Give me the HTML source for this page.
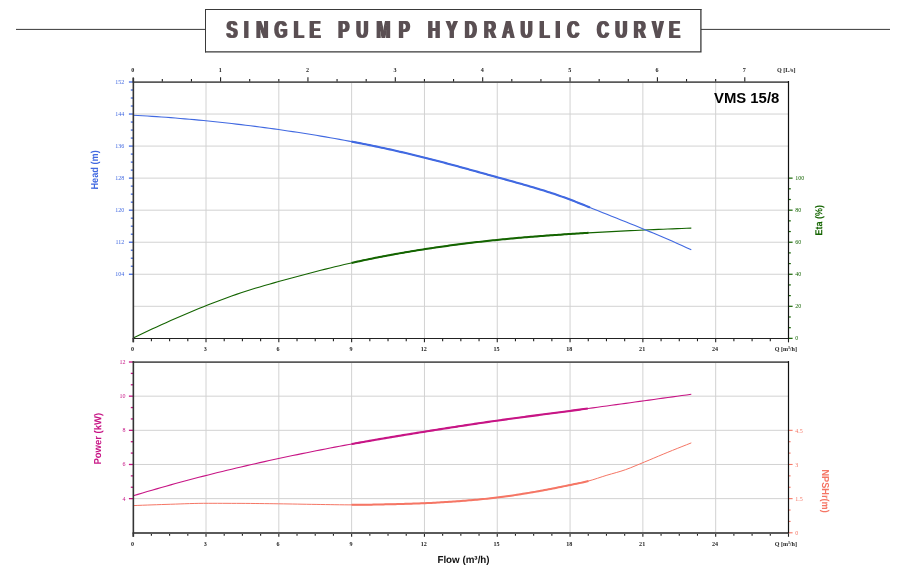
<!DOCTYPE html>
<html lang="en"><head><meta charset="utf-8"><title>Single Pump Hydraulic Curve</title>
<style>html,body{margin:0;padding:0;background:#fff}svg{display:block}text{white-space:pre}</style></head><body>
<svg width="908" height="571" viewBox="0 0 908 571">
<rect width="908" height="571" fill="#fff"/>
<g id="title">
<line x1="16" y1="29.4" x2="205.5" y2="29.4" stroke="#383838" stroke-width="1"/>
<line x1="701" y1="29.4" x2="890" y2="29.4" stroke="#383838" stroke-width="1"/>
<rect x="205.5" y="9.5" width="495.4" height="42.3" fill="#fff"/>
<path d="M205 9.5H701.5M205.5 9V52.4" fill="none" stroke="#3a3a3a" stroke-width="1"/>
<path d="M205 51.8H701.5M700.9 9V52.4" fill="none" stroke="#3a3a3a" stroke-width="1.3"/>
<defs><filter id="hb" x="-2%" y="-20%" width="104%" height="140%"><feMorphology operator="dilate" radius="1 0"/></filter></defs>
<g filter="url(#hb)"><text transform="translate(200.0 37.7) scale(0.676 1)" font-family='"Liberation Sans", sans-serif' font-weight="700" font-size="24.5" fill="#5a5052" x="39.14 65.24 83.32 110.26 138.52 161.9 183.9 204.45 231.11 261.1 293.94 315.94 337.39 364.45 391.81 420.32 447.09 474.3 502.13 525.74 543.2 565.2 587.14 614.39 641.77 668.9 693.71">SINGLE PUMP HYDRAULIC CURVE</text></g>
</g>
<g stroke="#d2d2d2" stroke-width="1" fill="none">
<line x1="206.01" y1="82" x2="206.01" y2="338.35"/>
<line x1="278.82" y1="82" x2="278.82" y2="338.35"/>
<line x1="351.63" y1="82" x2="351.63" y2="338.35"/>
<line x1="424.44" y1="82" x2="424.44" y2="338.35"/>
<line x1="497.25" y1="82" x2="497.25" y2="338.35"/>
<line x1="570.06" y1="82" x2="570.06" y2="338.35"/>
<line x1="642.87" y1="82" x2="642.87" y2="338.35"/>
<line x1="715.68" y1="82" x2="715.68" y2="338.35"/>
<line x1="133.2" y1="114.04" x2="788.4" y2="114.04"/>
<line x1="133.2" y1="146.09" x2="788.4" y2="146.09"/>
<line x1="133.2" y1="178.13" x2="788.4" y2="178.13"/>
<line x1="133.2" y1="210.18" x2="788.4" y2="210.18"/>
<line x1="133.2" y1="242.22" x2="788.4" y2="242.22"/>
<line x1="133.2" y1="274.26" x2="788.4" y2="274.26"/>
<line x1="133.2" y1="306.31" x2="788.4" y2="306.31"/>
</g>
<path d="M133.2 338 L137.89 335.73 L142.58 333.49 L147.27 331.27 L151.96 329.08 L156.65 326.91 L161.34 324.77 L166.03 322.65 L170.72 320.56 L175.41 318.49 L180.1 316.45 L184.79 314.44 L189.48 312.46 L194.17 310.51 L198.86 308.58 L203.55 306.68 L208.24 304.81 L212.93 302.97 L217.62 301.17 L222.31 299.4 L227 297.68 L231.69 296 L236.38 294.36 L241.07 292.77 L245.76 291.24 L250.45 289.75 L255.14 288.31 L259.83 286.91 L264.52 285.54 L269.21 284.19 L273.9 282.87 L278.59 281.56 L283.28 280.26 L287.97 278.97 L292.66 277.69 L297.35 276.42 L302.04 275.16 L306.73 273.92 L311.42 272.69 L316.11 271.48 L320.8 270.28 L325.49 269.1 L330.18 267.94 L334.87 266.8 L339.56 265.68 L344.25 264.58 L348.94 263.5 L353.63 262.45 L358.32 261.42 L363.01 260.41 L367.7 259.43 L372.39 258.47 L377.08 257.53 L381.77 256.61 L386.46 255.72 L391.15 254.85 L395.84 253.99 L400.53 253.16 L405.22 252.35 L409.91 251.55 L414.59 250.78 L419.28 250.02 L423.97 249.28 L428.66 248.56 L433.35 247.86 L438.04 247.17 L442.73 246.5 L447.42 245.85 L452.11 245.21 L456.8 244.6 L461.49 243.99 L466.18 243.41 L470.87 242.84 L475.56 242.28 L480.25 241.74 L484.94 241.22 L489.63 240.71 L494.32 240.22 L499.01 239.74 L503.7 239.27 L508.39 238.82 L513.08 238.39 L517.77 237.96 L522.46 237.55 L527.15 237.15 L531.84 236.77 L536.53 236.39 L541.22 236.03 L545.91 235.67 L550.6 235.33 L555.29 235 L559.98 234.67 L564.67 234.36 L569.36 234.05 L574.05 233.75 L578.74 233.45 L583.43 233.17 L588.12 232.89 L592.81 232.62 L597.5 232.35 L602.19 232.1 L606.88 231.84 L611.57 231.6 L616.26 231.36 L620.95 231.12 L625.64 230.89 L630.33 230.67 L635.02 230.45 L639.71 230.23 L644.4 230.02 L649.09 229.81 L653.78 229.61 L658.47 229.41 L663.16 229.21 L667.85 229.02 L672.54 228.83 L677.23 228.65 L681.92 228.46 L686.61 228.28 L691.3 228.1" fill="none" stroke="#146400" stroke-width="1.1" stroke-linecap="butt" stroke-linejoin="round"/>
<path d="M351.6 262.9 L353.59 262.46 L355.58 262.02 L357.57 261.58 L359.56 261.15 L361.55 260.72 L363.54 260.3 L365.54 259.88 L367.53 259.46 L369.52 259.05 L371.51 258.65 L373.5 258.24 L375.49 257.85 L377.48 257.45 L379.47 257.06 L381.46 256.67 L383.45 256.29 L385.44 255.91 L387.43 255.54 L389.42 255.16 L391.42 254.8 L393.41 254.43 L395.4 254.07 L397.39 253.71 L399.38 253.36 L401.37 253.01 L403.36 252.67 L405.35 252.32 L407.34 251.98 L409.33 251.65 L411.32 251.32 L413.31 250.99 L415.3 250.66 L417.29 250.34 L419.29 250.02 L421.28 249.7 L423.27 249.39 L425.26 249.08 L427.25 248.78 L429.24 248.47 L431.23 248.17 L433.22 247.88 L435.21 247.58 L437.2 247.29 L439.19 247.01 L441.18 246.72 L443.17 246.44 L445.17 246.16 L447.16 245.89 L449.15 245.61 L451.14 245.35 L453.13 245.08 L455.12 244.82 L457.11 244.56 L459.1 244.3 L461.09 244.04 L463.08 243.79 L465.07 243.54 L467.06 243.3 L469.05 243.06 L471.05 242.82 L473.04 242.58 L475.03 242.34 L477.02 242.11 L479.01 241.88 L481 241.66 L482.99 241.43 L484.98 241.21 L486.97 241 L488.96 240.78 L490.95 240.57 L492.94 240.36 L494.93 240.15 L496.93 239.95 L498.92 239.75 L500.91 239.55 L502.9 239.35 L504.89 239.16 L506.88 238.97 L508.87 238.78 L510.86 238.59 L512.85 238.41 L514.84 238.23 L516.83 238.05 L518.82 237.87 L520.81 237.7 L522.81 237.52 L524.8 237.35 L526.79 237.18 L528.78 237.02 L530.77 236.86 L532.76 236.69 L534.75 236.53 L536.74 236.38 L538.73 236.22 L540.72 236.07 L542.71 235.91 L544.7 235.76 L546.69 235.62 L548.68 235.47 L550.68 235.33 L552.67 235.18 L554.66 235.04 L556.65 234.9 L558.64 234.76 L560.63 234.63 L562.62 234.49 L564.61 234.36 L566.6 234.23 L568.59 234.1 L570.58 233.97 L572.57 233.84 L574.56 233.72 L576.56 233.59 L578.55 233.47 L580.54 233.34 L582.53 233.22 L584.52 233.1 L586.51 232.99 L588.5 232.87" fill="none" stroke="#146400" stroke-width="2.0" stroke-linecap="butt" stroke-linejoin="round"/>
<path d="M133.2 115.2 L137.89 115.46 L142.58 115.73 L147.27 116.02 L151.96 116.33 L156.65 116.64 L161.34 116.97 L166.03 117.32 L170.72 117.67 L175.41 118.05 L180.1 118.43 L184.79 118.83 L189.48 119.24 L194.17 119.67 L198.86 120.11 L203.55 120.56 L208.24 121.02 L212.93 121.5 L217.62 122 L222.31 122.5 L227 123.02 L231.69 123.55 L236.38 124.09 L241.07 124.65 L245.76 125.22 L250.45 125.81 L255.14 126.4 L259.83 127.01 L264.52 127.63 L269.21 128.26 L273.9 128.91 L278.59 129.57 L283.28 130.24 L287.97 130.93 L292.66 131.62 L297.35 132.33 L302.04 133.06 L306.73 133.79 L311.42 134.55 L316.11 135.31 L320.8 136.09 L325.49 136.89 L330.18 137.7 L334.87 138.52 L339.56 139.37 L344.25 140.22 L348.94 141.1 L353.63 141.99 L358.32 142.89 L363.01 143.82 L367.7 144.76 L372.39 145.72 L377.08 146.69 L381.77 147.69 L386.46 148.7 L391.15 149.73 L395.84 150.78 L400.53 151.84 L405.22 152.93 L409.91 154.03 L414.59 155.16 L419.28 156.3 L423.97 157.47 L428.66 158.65 L433.35 159.86 L438.04 161.08 L442.73 162.31 L447.42 163.56 L452.11 164.82 L456.8 166.09 L461.49 167.37 L466.18 168.66 L470.87 169.96 L475.56 171.25 L480.25 172.55 L484.94 173.85 L489.63 175.15 L494.32 176.45 L499.01 177.74 L503.7 179.03 L508.39 180.32 L513.08 181.62 L517.77 182.93 L522.46 184.25 L527.15 185.59 L531.84 186.96 L536.53 188.35 L541.22 189.78 L545.91 191.25 L550.6 192.76 L555.29 194.31 L559.98 195.92 L564.67 197.59 L569.36 199.32 L574.05 201.12 L578.74 202.96 L583.43 204.84 L588.12 206.74 L592.81 208.64 L597.5 210.52 L602.19 212.41 L606.88 214.29 L611.57 216.17 L616.26 218.05 L620.95 219.93 L625.64 221.81 L630.33 223.7 L635.02 225.61 L639.71 227.52 L644.4 229.44 L649.09 231.38 L653.78 233.33 L658.47 235.31 L663.16 237.3 L667.85 239.31 L672.54 241.36 L677.23 243.42 L681.92 245.52 L686.61 247.64 L691.3 249.8" fill="none" stroke="#4169e1" stroke-width="1.1" stroke-linecap="butt" stroke-linejoin="round"/>
<path d="M351.6 141.6 L353.6 141.98 L355.61 142.37 L357.61 142.76 L359.61 143.15 L361.62 143.54 L363.62 143.94 L365.62 144.34 L367.63 144.74 L369.63 145.15 L371.63 145.56 L373.64 145.97 L375.64 146.39 L377.64 146.81 L379.65 147.23 L381.65 147.66 L383.65 148.09 L385.66 148.52 L387.66 148.96 L389.66 149.4 L391.67 149.84 L393.67 150.29 L395.67 150.74 L397.68 151.19 L399.68 151.65 L401.68 152.11 L403.69 152.57 L405.69 153.04 L407.69 153.51 L409.7 153.99 L411.7 154.46 L413.7 154.94 L415.71 155.43 L417.71 155.92 L419.71 156.41 L421.72 156.91 L423.72 157.4 L425.72 157.91 L427.73 158.41 L429.73 158.92 L431.73 159.44 L433.74 159.95 L435.74 160.47 L437.74 161 L439.75 161.52 L441.75 162.05 L443.75 162.58 L445.76 163.12 L447.76 163.65 L449.76 164.19 L451.77 164.73 L453.77 165.27 L455.77 165.81 L457.78 166.36 L459.78 166.91 L461.78 167.45 L463.79 168 L465.79 168.55 L467.79 169.11 L469.8 169.66 L471.8 170.21 L473.81 170.77 L475.81 171.32 L477.81 171.88 L479.82 172.43 L481.82 172.99 L483.82 173.54 L485.83 174.1 L487.83 174.65 L489.83 175.21 L491.84 175.76 L493.84 176.32 L495.84 176.87 L497.85 177.42 L499.85 177.97 L501.85 178.52 L503.86 179.08 L505.86 179.63 L507.86 180.18 L509.87 180.73 L511.87 181.28 L513.87 181.84 L515.88 182.4 L517.88 182.96 L519.88 183.52 L521.89 184.08 L523.89 184.65 L525.89 185.23 L527.9 185.8 L529.9 186.39 L531.9 186.97 L533.91 187.56 L535.91 188.16 L537.91 188.77 L539.92 189.38 L541.92 189.99 L543.92 190.62 L545.93 191.25 L547.93 191.89 L549.93 192.54 L551.94 193.19 L553.94 193.86 L555.94 194.53 L557.95 195.22 L559.95 195.91 L561.95 196.62 L563.96 197.33 L565.96 198.06 L567.96 198.8 L569.97 199.55 L571.97 200.31 L573.97 201.09 L575.98 201.87 L577.98 202.66 L579.98 203.46 L581.99 204.26 L583.99 205.07 L585.99 205.88 L588 206.69 L590 207.5" fill="none" stroke="#4169e1" stroke-width="2.1" stroke-linecap="butt" stroke-linejoin="round"/>
<g stroke="#222" stroke-width="1.1">
<line x1="133.2" y1="82" x2="133.2" y2="77.2"/>
<line x1="162.32" y1="82" x2="162.32" y2="79"/>
<line x1="191.45" y1="82" x2="191.45" y2="79"/>
<line x1="220.57" y1="82" x2="220.57" y2="77.2"/>
<line x1="249.69" y1="82" x2="249.69" y2="79"/>
<line x1="278.82" y1="82" x2="278.82" y2="79"/>
<line x1="307.94" y1="82" x2="307.94" y2="77.2"/>
<line x1="337.06" y1="82" x2="337.06" y2="79"/>
<line x1="366.19" y1="82" x2="366.19" y2="79"/>
<line x1="395.31" y1="82" x2="395.31" y2="77.2"/>
<line x1="424.43" y1="82" x2="424.43" y2="79"/>
<line x1="453.56" y1="82" x2="453.56" y2="79"/>
<line x1="482.68" y1="82" x2="482.68" y2="77.2"/>
<line x1="511.8" y1="82" x2="511.8" y2="79"/>
<line x1="540.93" y1="82" x2="540.93" y2="79"/>
<line x1="570.05" y1="82" x2="570.05" y2="77.2"/>
<line x1="599.17" y1="82" x2="599.17" y2="79"/>
<line x1="628.3" y1="82" x2="628.3" y2="79"/>
<line x1="657.42" y1="82" x2="657.42" y2="77.2"/>
<line x1="686.54" y1="82" x2="686.54" y2="79"/>
<line x1="715.67" y1="82" x2="715.67" y2="79"/>
<line x1="744.79" y1="82" x2="744.79" y2="77.2"/>
</g>
<g font-family='"Liberation Serif", serif' font-weight="700" font-size="6.1" fill="#222" text-anchor="middle">
<text x="132.8" y="72.1">0</text>
<text x="220.17" y="72.1">1</text>
<text x="307.54" y="72.1">2</text>
<text x="394.91" y="72.1">3</text>
<text x="482.28" y="72.1">4</text>
<text x="569.65" y="72.1">5</text>
<text x="657.02" y="72.1">6</text>
<text x="744.39" y="72.1">7</text>
<text x="786.3" y="72.1">Q [L/s]</text>
</g>
<g stroke="#222" stroke-width="1.1">
<line x1="133.2" y1="338.35" x2="133.2" y2="342.35"/>
<line x1="151.4" y1="338.35" x2="151.4" y2="341.25"/>
<line x1="169.6" y1="338.35" x2="169.6" y2="341.25"/>
<line x1="187.81" y1="338.35" x2="187.81" y2="341.25"/>
<line x1="206.01" y1="338.35" x2="206.01" y2="342.35"/>
<line x1="224.21" y1="338.35" x2="224.21" y2="341.25"/>
<line x1="242.41" y1="338.35" x2="242.41" y2="341.25"/>
<line x1="260.62" y1="338.35" x2="260.62" y2="341.25"/>
<line x1="278.82" y1="338.35" x2="278.82" y2="342.35"/>
<line x1="297.02" y1="338.35" x2="297.02" y2="341.25"/>
<line x1="315.23" y1="338.35" x2="315.23" y2="341.25"/>
<line x1="333.43" y1="338.35" x2="333.43" y2="341.25"/>
<line x1="351.63" y1="338.35" x2="351.63" y2="342.35"/>
<line x1="369.83" y1="338.35" x2="369.83" y2="341.25"/>
<line x1="388.03" y1="338.35" x2="388.03" y2="341.25"/>
<line x1="406.24" y1="338.35" x2="406.24" y2="341.25"/>
<line x1="424.44" y1="338.35" x2="424.44" y2="342.35"/>
<line x1="442.64" y1="338.35" x2="442.64" y2="341.25"/>
<line x1="460.84" y1="338.35" x2="460.84" y2="341.25"/>
<line x1="479.05" y1="338.35" x2="479.05" y2="341.25"/>
<line x1="497.25" y1="338.35" x2="497.25" y2="342.35"/>
<line x1="515.45" y1="338.35" x2="515.45" y2="341.25"/>
<line x1="533.65" y1="338.35" x2="533.65" y2="341.25"/>
<line x1="551.86" y1="338.35" x2="551.86" y2="341.25"/>
<line x1="570.06" y1="338.35" x2="570.06" y2="342.35"/>
<line x1="588.26" y1="338.35" x2="588.26" y2="341.25"/>
<line x1="606.46" y1="338.35" x2="606.46" y2="341.25"/>
<line x1="624.67" y1="338.35" x2="624.67" y2="341.25"/>
<line x1="642.87" y1="338.35" x2="642.87" y2="342.35"/>
<line x1="661.07" y1="338.35" x2="661.07" y2="341.25"/>
<line x1="679.28" y1="338.35" x2="679.28" y2="341.25"/>
<line x1="697.48" y1="338.35" x2="697.48" y2="341.25"/>
<line x1="715.68" y1="338.35" x2="715.68" y2="342.35"/>
<line x1="733.88" y1="338.35" x2="733.88" y2="341.25"/>
<line x1="752.09" y1="338.35" x2="752.09" y2="341.25"/>
<line x1="770.29" y1="338.35" x2="770.29" y2="341.25"/>
<line x1="788.49" y1="338.35" x2="788.49" y2="342.35"/>
</g>
<g font-family='"Liberation Serif", serif' font-weight="700" font-size="6.1" fill="#222" text-anchor="middle">
<text x="132.5" y="350.9">0</text>
<text x="205.31" y="350.9">3</text>
<text x="278.12" y="350.9">6</text>
<text x="350.93" y="350.9">9</text>
<text x="423.74" y="350.9">12</text>
<text x="496.55" y="350.9">15</text>
<text x="569.36" y="350.9">18</text>
<text x="642.17" y="350.9">21</text>
<text x="714.98" y="350.9">24</text>
<text x="785.8" y="350.9">Q [m³/h]</text>
</g>
<g stroke="#4169e1" stroke-width="1.3">
<line x1="128.9" y1="82" x2="133.2" y2="82"/>
<line x1="130.8" y1="90.01" x2="133.2" y2="90.01"/>
<line x1="130.8" y1="98.02" x2="133.2" y2="98.02"/>
<line x1="130.8" y1="106.03" x2="133.2" y2="106.03"/>
<line x1="128.9" y1="114.04" x2="133.2" y2="114.04"/>
<line x1="130.8" y1="122.05" x2="133.2" y2="122.05"/>
<line x1="130.8" y1="130.07" x2="133.2" y2="130.07"/>
<line x1="130.8" y1="138.08" x2="133.2" y2="138.08"/>
<line x1="128.9" y1="146.09" x2="133.2" y2="146.09"/>
<line x1="130.8" y1="154.1" x2="133.2" y2="154.1"/>
<line x1="130.8" y1="162.11" x2="133.2" y2="162.11"/>
<line x1="130.8" y1="170.12" x2="133.2" y2="170.12"/>
<line x1="128.9" y1="178.13" x2="133.2" y2="178.13"/>
<line x1="130.8" y1="186.14" x2="133.2" y2="186.14"/>
<line x1="130.8" y1="194.15" x2="133.2" y2="194.15"/>
<line x1="130.8" y1="202.16" x2="133.2" y2="202.16"/>
<line x1="128.9" y1="210.18" x2="133.2" y2="210.18"/>
<line x1="130.8" y1="218.19" x2="133.2" y2="218.19"/>
<line x1="130.8" y1="226.2" x2="133.2" y2="226.2"/>
<line x1="130.8" y1="234.21" x2="133.2" y2="234.21"/>
<line x1="128.9" y1="242.22" x2="133.2" y2="242.22"/>
<line x1="130.8" y1="250.23" x2="133.2" y2="250.23"/>
<line x1="130.8" y1="258.24" x2="133.2" y2="258.24"/>
<line x1="130.8" y1="266.25" x2="133.2" y2="266.25"/>
<line x1="128.9" y1="274.26" x2="133.2" y2="274.26"/>
</g>
<g font-family='"Liberation Serif", serif' font-size="6" fill="#4169e1" text-anchor="end">
<text x="124.3" y="84">152</text>
<text x="124.3" y="116.04">144</text>
<text x="124.3" y="148.09">136</text>
<text x="124.3" y="180.13">128</text>
<text x="124.3" y="212.18">120</text>
<text x="124.3" y="244.22">112</text>
<text x="124.3" y="276.26">104</text>
</g>
<g stroke="#146400" stroke-width="1.2">
<line x1="788.4" y1="178.13" x2="792.6" y2="178.13"/>
<line x1="788.4" y1="188.81" x2="790.8" y2="188.81"/>
<line x1="788.4" y1="199.49" x2="790.8" y2="199.49"/>
<line x1="788.4" y1="210.18" x2="792.6" y2="210.18"/>
<line x1="788.4" y1="220.86" x2="790.8" y2="220.86"/>
<line x1="788.4" y1="231.54" x2="790.8" y2="231.54"/>
<line x1="788.4" y1="242.22" x2="792.6" y2="242.22"/>
<line x1="788.4" y1="252.9" x2="790.8" y2="252.9"/>
<line x1="788.4" y1="263.58" x2="790.8" y2="263.58"/>
<line x1="788.4" y1="274.26" x2="792.6" y2="274.26"/>
<line x1="788.4" y1="284.94" x2="790.8" y2="284.94"/>
<line x1="788.4" y1="295.62" x2="790.8" y2="295.62"/>
<line x1="788.4" y1="306.31" x2="792.6" y2="306.31"/>
<line x1="788.4" y1="316.99" x2="790.8" y2="316.99"/>
<line x1="788.4" y1="327.67" x2="790.8" y2="327.67"/>
<line x1="788.4" y1="338.35" x2="792.6" y2="338.35"/>
</g>
<g font-family='"Liberation Serif", serif' font-size="6" fill="#146400" text-anchor="start">
<text x="795.2" y="180.13">100</text>
<text x="795.2" y="212.18">80</text>
<text x="795.2" y="244.22">60</text>
<text x="795.2" y="276.26">40</text>
<text x="795.2" y="308.31">20</text>
<text x="795.2" y="340.35">0</text>
</g>
<line x1="132.6" y1="82.1" x2="789" y2="82.1" stroke="#5a5a5a" stroke-width="1.9"/>
<line x1="132.6" y1="338.45" x2="789" y2="338.45" stroke="#222" stroke-width="1.15"/>
<line x1="133.35" y1="78.1" x2="133.35" y2="342.35" stroke="#343434" stroke-width="1.6"/>
<line x1="788.5" y1="81.1" x2="788.5" y2="338.95" stroke="#111" stroke-width="1.2"/>
<text transform="translate(98.0 189.6) rotate(-89.9)" font-family='"Liberation Sans", sans-serif' font-weight="700" font-size="10.1" fill="#4169e1" textLength="39.4" lengthAdjust="spacingAndGlyphs">Head (m)</text>
<text transform="translate(822.3 235.5) rotate(-89.9)" font-family='"Liberation Sans", sans-serif' font-weight="700" font-size="10.1" fill="#146400" textLength="30.4" lengthAdjust="spacingAndGlyphs">Eta (%)</text>
<text x="714" y="102.7" font-family='"Liberation Sans", sans-serif' font-weight="700" font-size="13.8" fill="#000" textLength="65.3" lengthAdjust="spacingAndGlyphs">VMS 15/8</text>
<g stroke="#d2d2d2" stroke-width="1" fill="none">
<line x1="206.01" y1="362" x2="206.01" y2="532.8"/>
<line x1="278.82" y1="362" x2="278.82" y2="532.8"/>
<line x1="351.63" y1="362" x2="351.63" y2="532.8"/>
<line x1="424.44" y1="362" x2="424.44" y2="532.8"/>
<line x1="497.25" y1="362" x2="497.25" y2="532.8"/>
<line x1="570.06" y1="362" x2="570.06" y2="532.8"/>
<line x1="642.87" y1="362" x2="642.87" y2="532.8"/>
<line x1="715.68" y1="362" x2="715.68" y2="532.8"/>
<line x1="133.2" y1="396.16" x2="788.4" y2="396.16"/>
<line x1="133.2" y1="430.32" x2="788.4" y2="430.32"/>
<line x1="133.2" y1="464.48" x2="788.4" y2="464.48"/>
<line x1="133.2" y1="498.64" x2="788.4" y2="498.64"/>
</g>
<path d="M133.2 505.6 L137.89 505.41 L142.58 505.23 L147.27 505.06 L151.96 504.89 L156.65 504.72 L161.34 504.56 L166.03 504.41 L170.72 504.26 L175.41 504.1 L180.1 503.93 L184.79 503.76 L189.48 503.6 L194.17 503.47 L198.86 503.36 L203.55 503.31 L208.24 503.3 L212.93 503.3 L217.62 503.31 L222.31 503.32 L227 503.34 L231.69 503.36 L236.38 503.37 L241.07 503.39 L245.76 503.42 L250.45 503.45 L255.14 503.5 L259.83 503.55 L264.52 503.61 L269.21 503.67 L273.9 503.73 L278.59 503.8 L283.28 503.86 L287.97 503.94 L292.66 504.02 L297.35 504.1 L302.04 504.19 L306.73 504.27 L311.42 504.35 L316.11 504.42 L320.8 504.49 L325.49 504.57 L330.18 504.64 L334.87 504.71 L339.56 504.77 L344.25 504.82 L348.94 504.85 L353.63 504.85 L358.32 504.82 L363.01 504.77 L367.7 504.7 L372.39 504.62 L377.08 504.53 L381.77 504.43 L386.46 504.33 L391.15 504.23 L395.84 504.13 L400.53 504 L405.22 503.87 L409.91 503.73 L414.59 503.57 L419.28 503.4 L423.97 503.22 L428.66 503.02 L433.35 502.79 L438.04 502.53 L442.73 502.26 L447.42 501.96 L452.11 501.64 L456.8 501.31 L461.49 500.96 L466.18 500.6 L470.87 500.21 L475.56 499.79 L480.25 499.34 L484.94 498.87 L489.63 498.38 L494.32 497.86 L499.01 497.31 L503.7 496.71 L508.39 496.07 L513.08 495.39 L517.77 494.67 L522.46 493.92 L527.15 493.15 L531.84 492.36 L536.53 491.56 L541.22 490.73 L545.91 489.85 L550.6 488.95 L555.29 488.02 L559.98 487.08 L564.67 486.12 L569.36 485.15 L574.05 484.19 L578.74 483.23 L583.43 482.22 L588.12 481.1 L592.81 479.78 L597.5 478.27 L602.19 476.71 L606.88 475.23 L611.57 473.89 L616.26 472.57 L620.95 471.19 L625.64 469.63 L630.33 467.86 L635.02 465.95 L639.71 463.99 L644.4 462.06 L649.09 460.11 L653.78 458.13 L658.47 456.15 L663.16 454.18 L667.85 452.25 L672.54 450.35 L677.23 448.46 L681.92 446.59 L686.61 444.74 L691.3 442.9" fill="none" stroke="#f57665" stroke-width="1.0" stroke-linecap="butt" stroke-linejoin="round"/>
<path d="M351.6 504.85 L353.59 504.85 L355.58 504.84 L357.57 504.83 L359.56 504.81 L361.55 504.79 L363.54 504.76 L365.54 504.74 L367.53 504.71 L369.52 504.67 L371.51 504.64 L373.5 504.6 L375.49 504.56 L377.48 504.52 L379.47 504.48 L381.46 504.44 L383.45 504.39 L385.44 504.35 L387.43 504.31 L389.42 504.27 L391.42 504.23 L393.41 504.18 L395.4 504.14 L397.39 504.09 L399.38 504.04 L401.37 503.98 L403.36 503.93 L405.35 503.87 L407.34 503.81 L409.33 503.75 L411.32 503.68 L413.31 503.61 L415.3 503.55 L417.29 503.48 L419.29 503.4 L421.28 503.33 L423.27 503.25 L425.26 503.17 L427.25 503.08 L429.24 502.99 L431.23 502.9 L433.22 502.8 L435.21 502.69 L437.2 502.58 L439.19 502.47 L441.18 502.35 L443.17 502.23 L445.17 502.1 L447.16 501.97 L449.15 501.84 L451.14 501.71 L453.13 501.57 L455.12 501.43 L457.11 501.28 L459.1 501.14 L461.09 500.99 L463.08 500.84 L465.07 500.69 L467.06 500.53 L469.05 500.36 L471.05 500.19 L473.04 500.02 L475.03 499.84 L477.02 499.65 L479.01 499.46 L481 499.27 L482.99 499.07 L484.98 498.87 L486.97 498.66 L488.96 498.45 L490.95 498.23 L492.94 498.01 L494.93 497.79 L496.93 497.56 L498.92 497.32 L500.91 497.07 L502.9 496.82 L504.89 496.55 L506.88 496.28 L508.87 496 L510.86 495.71 L512.85 495.42 L514.84 495.12 L516.83 494.81 L518.82 494.5 L520.81 494.18 L522.81 493.86 L524.8 493.54 L526.79 493.21 L528.78 492.88 L530.77 492.55 L532.76 492.21 L534.75 491.87 L536.74 491.53 L538.73 491.18 L540.72 490.82 L542.71 490.45 L544.7 490.08 L546.69 489.71 L548.68 489.32 L550.68 488.94 L552.67 488.54 L554.66 488.15 L556.65 487.75 L558.64 487.35 L560.63 486.94 L562.62 486.54 L564.61 486.13 L566.6 485.72 L568.59 485.31 L570.58 484.9 L572.57 484.49 L574.56 484.09 L576.56 483.69 L578.55 483.28 L580.54 482.86 L582.53 482.42 L584.52 481.97 L586.51 481.5 L588.5 481" fill="none" stroke="#f57665" stroke-width="2.0" stroke-linecap="butt" stroke-linejoin="round"/>
<path d="M133.2 495.8 L137.89 494.38 L142.58 492.97 L147.27 491.58 L151.96 490.2 L156.65 488.85 L161.34 487.51 L166.03 486.18 L170.72 484.87 L175.41 483.58 L180.1 482.3 L184.79 481.03 L189.48 479.79 L194.17 478.55 L198.86 477.33 L203.55 476.12 L208.24 474.93 L212.93 473.75 L217.62 472.59 L222.31 471.44 L227 470.3 L231.69 469.17 L236.38 468.06 L241.07 466.95 L245.76 465.86 L250.45 464.79 L255.14 463.72 L259.83 462.66 L264.52 461.62 L269.21 460.58 L273.9 459.56 L278.59 458.55 L283.28 457.54 L287.97 456.55 L292.66 455.56 L297.35 454.59 L302.04 453.63 L306.73 452.67 L311.42 451.73 L316.11 450.8 L320.8 449.87 L325.49 448.96 L330.18 448.05 L334.87 447.16 L339.56 446.28 L344.25 445.4 L348.94 444.54 L353.63 443.68 L358.32 442.84 L363.01 442 L367.7 441.17 L372.39 440.36 L377.08 439.55 L381.77 438.74 L386.46 437.95 L391.15 437.16 L395.84 436.38 L400.53 435.6 L405.22 434.83 L409.91 434.06 L414.59 433.3 L419.28 432.54 L423.97 431.78 L428.66 431.03 L433.35 430.28 L438.04 429.54 L442.73 428.8 L447.42 428.07 L452.11 427.33 L456.8 426.61 L461.49 425.89 L466.18 425.17 L470.87 424.47 L475.56 423.77 L480.25 423.07 L484.94 422.39 L489.63 421.71 L494.32 421.04 L499.01 420.37 L503.7 419.72 L508.39 419.07 L513.08 418.43 L517.77 417.8 L522.46 417.17 L527.15 416.55 L531.84 415.93 L536.53 415.31 L541.22 414.69 L545.91 414.08 L550.6 413.46 L555.29 412.85 L559.98 412.23 L564.67 411.62 L569.36 411 L574.05 410.37 L578.74 409.75 L583.43 409.12 L588.12 408.49 L592.81 407.85 L597.5 407.21 L602.19 406.57 L606.88 405.93 L611.57 405.29 L616.26 404.64 L620.95 403.99 L625.64 403.35 L630.33 402.7 L635.02 402.05 L639.71 401.4 L644.4 400.75 L649.09 400.1 L653.78 399.45 L658.47 398.8 L663.16 398.16 L667.85 397.51 L672.54 396.86 L677.23 396.22 L681.92 395.58 L686.61 394.94 L691.3 394.3" fill="none" stroke="#c71585" stroke-width="1.1" stroke-linecap="butt" stroke-linejoin="round"/>
<path d="M351.6 444.05 L353.58 443.69 L355.57 443.33 L357.55 442.97 L359.54 442.62 L361.52 442.26 L363.51 441.91 L365.49 441.56 L367.48 441.21 L369.46 440.87 L371.45 440.52 L373.43 440.17 L375.42 439.83 L377.4 439.49 L379.39 439.15 L381.37 438.81 L383.36 438.47 L385.34 438.14 L387.33 437.8 L389.31 437.47 L391.3 437.13 L393.28 436.8 L395.27 436.47 L397.25 436.14 L399.24 435.81 L401.22 435.48 L403.21 435.16 L405.19 434.83 L407.18 434.51 L409.16 434.18 L411.15 433.86 L413.13 433.53 L415.12 433.21 L417.1 432.89 L419.09 432.57 L421.07 432.25 L423.06 431.93 L425.04 431.61 L427.03 431.3 L429.01 430.98 L430.99 430.66 L432.98 430.34 L434.96 430.03 L436.95 429.71 L438.93 429.4 L440.92 429.09 L442.9 428.77 L444.89 428.46 L446.87 428.15 L448.86 427.84 L450.84 427.53 L452.83 427.22 L454.81 426.92 L456.8 426.61 L458.78 426.3 L460.77 426 L462.75 425.7 L464.74 425.39 L466.72 425.09 L468.71 424.79 L470.69 424.49 L472.68 424.2 L474.66 423.9 L476.65 423.61 L478.63 423.31 L480.62 423.02 L482.6 422.73 L484.59 422.44 L486.57 422.15 L488.56 421.86 L490.54 421.58 L492.53 421.29 L494.51 421.01 L496.5 420.73 L498.48 420.45 L500.47 420.17 L502.45 419.89 L504.44 419.62 L506.42 419.34 L508.41 419.07 L510.39 418.8 L512.37 418.53 L514.36 418.26 L516.34 417.99 L518.33 417.72 L520.31 417.46 L522.3 417.19 L524.28 416.93 L526.27 416.66 L528.25 416.4 L530.24 416.14 L532.22 415.88 L534.21 415.61 L536.19 415.35 L538.18 415.09 L540.16 414.83 L542.15 414.57 L544.13 414.31 L546.12 414.05 L548.1 413.79 L550.09 413.53 L552.07 413.27 L554.06 413.01 L556.04 412.75 L558.03 412.49 L560.01 412.23 L562 411.97 L563.98 411.71 L565.97 411.45 L567.95 411.18 L569.94 410.92 L571.92 410.66 L573.91 410.39 L575.89 410.13 L577.88 409.86 L579.86 409.6 L581.85 409.33 L583.83 409.06 L585.82 408.8 L587.8 408.53" fill="none" stroke="#c71585" stroke-width="2.1" stroke-linecap="butt" stroke-linejoin="round"/>
<g stroke="#222" stroke-width="1.1">
<line x1="133.2" y1="532.8" x2="133.2" y2="536.8"/>
<line x1="151.4" y1="532.8" x2="151.4" y2="535.7"/>
<line x1="169.6" y1="532.8" x2="169.6" y2="535.7"/>
<line x1="187.81" y1="532.8" x2="187.81" y2="535.7"/>
<line x1="206.01" y1="532.8" x2="206.01" y2="536.8"/>
<line x1="224.21" y1="532.8" x2="224.21" y2="535.7"/>
<line x1="242.41" y1="532.8" x2="242.41" y2="535.7"/>
<line x1="260.62" y1="532.8" x2="260.62" y2="535.7"/>
<line x1="278.82" y1="532.8" x2="278.82" y2="536.8"/>
<line x1="297.02" y1="532.8" x2="297.02" y2="535.7"/>
<line x1="315.23" y1="532.8" x2="315.23" y2="535.7"/>
<line x1="333.43" y1="532.8" x2="333.43" y2="535.7"/>
<line x1="351.63" y1="532.8" x2="351.63" y2="536.8"/>
<line x1="369.83" y1="532.8" x2="369.83" y2="535.7"/>
<line x1="388.03" y1="532.8" x2="388.03" y2="535.7"/>
<line x1="406.24" y1="532.8" x2="406.24" y2="535.7"/>
<line x1="424.44" y1="532.8" x2="424.44" y2="536.8"/>
<line x1="442.64" y1="532.8" x2="442.64" y2="535.7"/>
<line x1="460.84" y1="532.8" x2="460.84" y2="535.7"/>
<line x1="479.05" y1="532.8" x2="479.05" y2="535.7"/>
<line x1="497.25" y1="532.8" x2="497.25" y2="536.8"/>
<line x1="515.45" y1="532.8" x2="515.45" y2="535.7"/>
<line x1="533.65" y1="532.8" x2="533.65" y2="535.7"/>
<line x1="551.86" y1="532.8" x2="551.86" y2="535.7"/>
<line x1="570.06" y1="532.8" x2="570.06" y2="536.8"/>
<line x1="588.26" y1="532.8" x2="588.26" y2="535.7"/>
<line x1="606.46" y1="532.8" x2="606.46" y2="535.7"/>
<line x1="624.67" y1="532.8" x2="624.67" y2="535.7"/>
<line x1="642.87" y1="532.8" x2="642.87" y2="536.8"/>
<line x1="661.07" y1="532.8" x2="661.07" y2="535.7"/>
<line x1="679.28" y1="532.8" x2="679.28" y2="535.7"/>
<line x1="697.48" y1="532.8" x2="697.48" y2="535.7"/>
<line x1="715.68" y1="532.8" x2="715.68" y2="536.8"/>
<line x1="733.88" y1="532.8" x2="733.88" y2="535.7"/>
<line x1="752.09" y1="532.8" x2="752.09" y2="535.7"/>
<line x1="770.29" y1="532.8" x2="770.29" y2="535.7"/>
<line x1="788.49" y1="532.8" x2="788.49" y2="536.8"/>
</g>
<g font-family='"Liberation Serif", serif' font-weight="700" font-size="6.1" fill="#222" text-anchor="middle">
<text x="132.5" y="546.3">0</text>
<text x="205.31" y="546.3">3</text>
<text x="278.12" y="546.3">6</text>
<text x="350.93" y="546.3">9</text>
<text x="423.74" y="546.3">12</text>
<text x="496.55" y="546.3">15</text>
<text x="569.36" y="546.3">18</text>
<text x="642.17" y="546.3">21</text>
<text x="714.98" y="546.3">24</text>
<text x="785.8" y="546.3">Q [m³/h]</text>
</g>
<g stroke="#c71585" stroke-width="1.3">
<line x1="128.9" y1="362" x2="133.2" y2="362"/>
<line x1="130.8" y1="373.39" x2="133.2" y2="373.39"/>
<line x1="130.8" y1="384.77" x2="133.2" y2="384.77"/>
<line x1="128.9" y1="396.16" x2="133.2" y2="396.16"/>
<line x1="130.8" y1="407.55" x2="133.2" y2="407.55"/>
<line x1="130.8" y1="418.93" x2="133.2" y2="418.93"/>
<line x1="128.9" y1="430.32" x2="133.2" y2="430.32"/>
<line x1="130.8" y1="441.71" x2="133.2" y2="441.71"/>
<line x1="130.8" y1="453.09" x2="133.2" y2="453.09"/>
<line x1="128.9" y1="464.48" x2="133.2" y2="464.48"/>
<line x1="130.8" y1="475.87" x2="133.2" y2="475.87"/>
<line x1="130.8" y1="487.25" x2="133.2" y2="487.25"/>
<line x1="128.9" y1="498.64" x2="133.2" y2="498.64"/>
</g>
<g font-family='"Liberation Serif", serif' font-size="6" fill="#c71585" text-anchor="end">
<text x="125.6" y="364">12</text>
<text x="125.6" y="398.16">10</text>
<text x="125.6" y="432.32">8</text>
<text x="125.6" y="466.48">6</text>
<text x="125.6" y="500.64">4</text>
</g>
<g stroke="#f57665" stroke-width="1.1">
<line x1="788.4" y1="532.8" x2="792.6" y2="532.8"/>
<line x1="788.4" y1="521.41" x2="790.6" y2="521.41"/>
<line x1="788.4" y1="510.03" x2="790.6" y2="510.03"/>
<line x1="788.4" y1="498.64" x2="792.6" y2="498.64"/>
<line x1="788.4" y1="487.25" x2="790.6" y2="487.25"/>
<line x1="788.4" y1="475.87" x2="790.6" y2="475.87"/>
<line x1="788.4" y1="464.48" x2="792.6" y2="464.48"/>
<line x1="788.4" y1="453.09" x2="790.6" y2="453.09"/>
<line x1="788.4" y1="441.71" x2="790.6" y2="441.71"/>
<line x1="788.4" y1="430.32" x2="792.6" y2="430.32"/>
</g>
<g font-family='"Liberation Serif", serif' font-size="6" fill="#f57665" text-anchor="start">
<text x="795.2" y="535.2">0</text>
<text x="795.2" y="501.04">1.5</text>
<text x="795.2" y="466.88">3</text>
<text x="795.2" y="432.72">4.5</text>
</g>
<line x1="132.6" y1="362.1" x2="789" y2="362.1" stroke="#5a5a5a" stroke-width="1.9"/>
<line x1="132.6" y1="533" x2="789" y2="533" stroke="#5a5a5a" stroke-width="1.9"/>
<line x1="133.35" y1="361.1" x2="133.35" y2="536.8" stroke="#343434" stroke-width="1.6"/>
<line x1="788.5" y1="361.1" x2="788.5" y2="533.4" stroke="#111" stroke-width="1.2"/>
<text transform="translate(101.1 464.5) rotate(-89.9)" font-family='"Liberation Sans", sans-serif' font-weight="700" font-size="10.1" fill="#c71585" textLength="51.6" lengthAdjust="spacingAndGlyphs">Power (kW)</text>
<text transform="translate(822.0 469.5) rotate(90.1)" font-family='"Liberation Sans", sans-serif' font-weight="700" font-size="10.1" fill="#f57665" textLength="43.2" lengthAdjust="spacingAndGlyphs">NPSHr(m)</text>
<text transform="translate(437.4 562.9) rotate(0.07)" font-family='"Liberation Sans", sans-serif' font-weight="700" font-size="10.1" fill="#111" textLength="52.2" lengthAdjust="spacingAndGlyphs">Flow (m³/h)</text>
</svg></body></html>
